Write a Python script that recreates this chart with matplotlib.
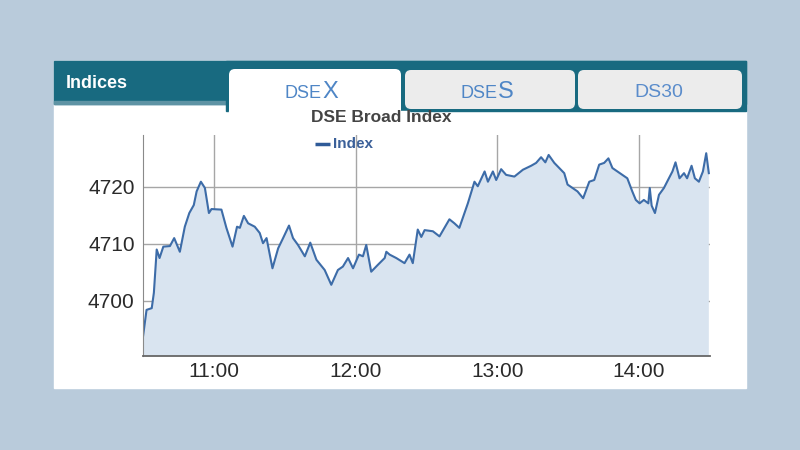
import matplotlib
matplotlib.use("Agg")
import matplotlib.pyplot as plt
from matplotlib.patches import Rectangle, FancyBboxPatch

plt.rcParams['font.family'] = ['Liberation Sans', 'DejaVu Sans']

# minutes after 10:30 and DSEX value
minutes = [0, 1.5, 3.7, 4.6, 5.8, 7.0, 8.6, 11.4, 13.2, 15.6, 17.7, 19.6, 21.5, 22.7,
           24.5, 26.2, 27.9, 29.0, 33.2, 35.3, 37.9, 39.8, 41.0, 42.7, 44.5, 47.3,
           49.4, 50.8, 52.3, 54.8, 57.2, 59.3, 61.8, 63.5, 65.6, 68.5, 70.8, 73.4,
           76.9, 79.7, 82.5, 84.6, 86.8, 88.9, 91.4, 93.1, 94.5, 96.6, 99.4, 102.3,
           103.0, 104.4, 107.2, 110.7, 112.8, 114.2, 116.3, 117.8, 119.2, 122.7,
           125.5, 129.7, 131.8, 133.9, 137.5, 140.3, 141.7, 144.6, 146.0, 148.1,
           149.5, 151.6, 153.7, 157.2, 160.8, 164.3, 166.4, 168.5, 170.3, 171.7,
           174.1, 176.9, 178.3, 179.7, 181.8, 183.9, 186.3, 188.9, 191.0, 193.1,
           195.2, 197.0, 198.7, 201.5, 205.0, 207.1, 208.6, 210.2, 212.0, 213.9,
           214.5, 215.3, 216.7, 218.4, 220.5, 222.6, 224.1, 225.4, 227.1, 229.0,
           230.3, 232.2, 233.6, 235.3, 237.0, 238.4, 239.5]
index_values = [4693.7, 4698.4, 4698.7, 4701.4, 4709.0, 4707.5, 4709.5, 4709.6, 4711.0,
                4708.6, 4713.0, 4715.4, 4716.8, 4719.2, 4720.9, 4719.8, 4715.4, 4716.1,
                4716.0, 4712.8, 4709.5, 4713.0, 4712.8, 4714.9, 4713.6, 4713.0, 4711.9,
                4710.1, 4711.0, 4705.7, 4709.2, 4711.0, 4713.2, 4711.0, 4709.8, 4707.8,
                4710.2, 4707.2, 4705.4, 4702.8, 4705.4, 4706.0, 4707.5, 4705.7, 4708.1,
                4707.8, 4709.8, 4705.1, 4706.3, 4707.5, 4708.6, 4708.1, 4707.5, 4706.6,
                4708.1, 4706.6, 4712.5, 4711.2, 4712.4, 4712.2, 4711.3, 4714.3, 4713.6,
                4712.8, 4717.1, 4720.9, 4720.1, 4722.7, 4720.9, 4722.7, 4721.2, 4723.1,
                4722.1, 4721.8, 4723.0, 4723.7, 4724.2, 4725.2, 4724.3, 4725.6, 4724.2,
                4723.0, 4722.4, 4720.4, 4719.8, 4719.2, 4718.0, 4720.9, 4721.2, 4723.9,
                4724.2, 4725.0, 4723.3, 4722.5, 4721.5, 4719.2, 4717.7, 4717.1, 4717.7,
                4717.1, 4719.8, 4716.7, 4715.4, 4718.6, 4719.8, 4721.5, 4722.7, 4724.3,
                4721.5, 4722.4, 4721.5, 4723.7, 4721.5, 4720.9, 4722.7, 4725.9, 4722.4]
hour_ticks = [30, 90, 150, 210]
hour_labels = ['11:00', '12:00', '13:00', '14:00']
y_ticks = [4700, 4710, 4720]
tabs = ['DSEX', 'DSES', 'DS30']

teal = '#186a80'
fig = plt.figure(figsize=(8, 4.5), dpi=100, facecolor='#b9cbdb')

# page widget drawn in pixel coordinates (y grows downward)
bg = fig.add_axes([0, 0, 1, 1], zorder=0)
bg.set_xlim(0, 800)
bg.set_ylim(450, 0)
bg.axis('off')
bg.add_patch(Rectangle((54, 61), 692, 327, color='white'))
bg.add_patch(Rectangle((54, 61), 692, 43, color=teal))
bg.add_patch(Rectangle((54, 101), 174, 3, color='#5e93a4'))
bg.add_patch(Rectangle((226, 61), 520, 50, color=teal))
# tabs
bg.add_patch(FancyBboxPatch((405, 70), 170, 39, boxstyle='round,pad=0,rounding_size=6',
                            fc='#ececec', ec='none'))
bg.add_patch(FancyBboxPatch((578, 70), 164, 39, boxstyle='round,pad=0,rounding_size=6',
                            fc='#ececec', ec='none'))
bg.add_patch(FancyBboxPatch((229, 69), 172, 60, boxstyle='round,pad=0,rounding_size=6',
                            fc='white', ec='none'))
bg.add_patch(Rectangle((229, 111), 180, 20, color='white'))

bg.text(66, 84, 'Indices', color='white', fontsize=13, fontweight='bold', va='center')
tab_color = '#4f86c6'
bg.text(285, 98, tabs[0][:3], color=tab_color, fontsize=13, va='baseline')
bg.text(322, 98, tabs[0][3], color=tab_color, fontsize=17, va='baseline')
bg.text(461, 98, tabs[1][:3], color=tab_color, fontsize=13, va='baseline')
bg.text(498, 98, tabs[1][3], color=tab_color, fontsize=17, va='baseline')
bg.text(659, 97, tabs[2], color='#5a8ccb', fontsize=14, va='baseline', ha='center')

bg.text(381, 117, 'DSE Broad Index', color='#444444', fontsize=12.5,
        fontweight='bold', ha='center', va='center')
bg.plot([315, 330], [144, 144], color='#2f5b98', lw=2.5, solid_capstyle='butt')
bg.text(333, 144, 'Index', color='#3b6099', fontsize=11, fontweight='bold', va='center')

# chart
ax = fig.add_axes([143 / 800, 1 - 356 / 450, 567 / 800, 221 / 450], zorder=1)
ax.patch.set_alpha(0)
ax.fill_between(minutes, index_values, 4600, color='#d9e4f0', lw=0)
ax.plot(minutes, index_values, color='#3d6ca8', lw=1.5)
ax.set_xlim(0, 240)
ax.set_ylim(4690.3, 4729.1)
ax.set_xticks(hour_ticks)
ax.set_xticklabels(hour_labels)
ax.set_yticks(y_ticks)
ax.grid(True, color='#a6a6a6', lw=1)
ax.set_axisbelow(True)
ax.tick_params(length=0, labelsize=15, colors='#2a2a2a')
ax.tick_params(axis='x', pad=4)
ax.tick_params(axis='y', pad=6)
for s in ['top', 'right']:
    ax.spines[s].set_visible(False)
ax.spines['left'].set_color('#8a8a8a')
ax.spines['bottom'].set_color('#666666')
ax.spines['bottom'].set_linewidth(1.3)

plt.savefig('out.png', dpi=100, facecolor=fig.get_facecolor())
